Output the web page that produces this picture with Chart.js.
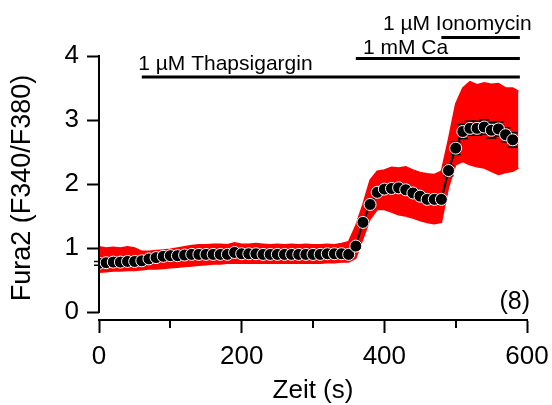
<!DOCTYPE html>
<html><head><meta charset="utf-8">
<script src="https://cdn.jsdelivr.net/npm/chart.js@4"></script>
<style>html,body{margin:0;padding:0;background:#fff}#wrap{width:552px;height:405px}</style>
</head><body><div id="wrap"><canvas id="c" width="552" height="405"></canvas></div>
<script>
// ---- data ----
const times = [0,10,20,30,40,50,60,70,80,90,100,110,120,130,140,150,160,170,180,190,200,210,220,230,240,250,260,270,280,290,300,310,320,330,340,350,360,370,380,390,400,410,420,430,440,450,460,470,480,490,500,510,520,530,540,550,560,570,580];
const meanRatio = [0.76,0.77,0.78,0.78,0.79,0.79,0.80,0.83,0.85,0.87,
  0.88,0.88,0.89,0.90,0.90,0.90,0.90,0.90,0.90,0.93,
  0.91,0.91,0.91,0.90,0.90,0.90,0.90,0.90,0.90,0.90,
  0.90,0.90,0.91,0.91,0.91,0.90,1.03,1.40,1.68,1.87,
  1.92,1.93,1.94,1.91,1.86,1.81,1.76,1.76,1.76,2.21,
  2.56,2.82,2.87,2.87,2.89,2.84,2.86,2.77,2.69];
const semRatio = [0.03,0.03,0.03,0.03,0.03,0.03,0.03,0.03,0.03,0.03,
  0.03,0.03,0.03,0.03,0.03,0.03,0.03,0.03,0.03,0.03,
  0.03,0.03,0.03,0.03,0.03,0.03,0.03,0.03,0.03,0.03,
  0.03,0.03,0.03,0.03,0.03,0.03,0.04,0.05,0.05,0.05,
  0.05,0.05,0.05,0.05,0.05,0.05,0.05,0.05,0.05,0.08,
  0.10,0.11,0.11,0.11,0.11,0.12,0.11,0.11,0.11];
const bandTimes = [0,10,20,30,40,50,60,70,80,90,100,110,120,130,140,150,160,170,180,190,200,210,220,230,240,250,260,270,280,290,300,310,320,330,340,350,360,370,380,390,400,410,420,430,440,450,460,470,480,490,500,510,520,530,540,550,560,570,580,588];
const bandUpper = [1.02,1.00,1.01,1.00,1.02,1.00,0.95,0.95,0.96,0.97,
  0.98,1.00,1.02,1.04,1.05,1.05,1.06,1.06,1.05,1.08,
  1.06,1.06,1.07,1.06,1.05,1.06,1.05,1.06,1.05,1.06,
  1.05,1.05,1.06,1.05,1.07,1.10,1.35,1.68,2.06,2.20,
  2.22,2.26,2.25,2.27,2.22,2.18,2.16,2.15,2.20,2.70,
  3.25,3.50,3.60,3.55,3.58,3.56,3.57,3.50,3.50,3.45];
const bandLower = [0.62,0.63,0.64,0.64,0.65,0.65,0.66,0.67,0.67,0.68,
  0.69,0.70,0.71,0.72,0.73,0.74,0.75,0.75,0.76,0.76,
  0.76,0.76,0.76,0.76,0.76,0.76,0.76,0.76,0.76,0.76,
  0.76,0.76,0.77,0.77,0.78,0.78,0.84,1.15,1.45,1.60,
  1.60,1.56,1.52,1.50,1.47,1.43,1.40,1.38,1.40,1.95,
  2.30,2.35,2.30,2.27,2.25,2.20,2.15,2.18,2.20,2.25];
const xTicks = [0,100,200,300,400,500,600];
const xTickLabels = ['0','','200','','400','','600'];
const yTicks = [0,1,2,3,4];
const yTickLabels = ['0','1','2','3','4'];
const treatLabels = ['1 µM Thapsigargin','1 mM Ca','1 µM Ionomycin'];
const treatStart = [60,360,480];
const treatEnd = [590,590,590];
const treatLevel = [3.67,3.96,4.29];
const treatTextTime = [55,370,398];
const treatTextLevel = [3.78,4.03,4.41];
const nLabel = '(8)';

const FONT = "'Liberation Sans', Arial, sans-serif";

const decor = {
  id: 'decor',
  beforeDatasetDraw(chart, args) {
    if (args.index !== 0) return;
    const {ctx, scales:{x, y}} = chart;
    ctx.save();
    ctx.strokeStyle = '#000'; ctx.lineWidth = 1.5;
    times.forEach((t, i) => {
      const px = x.getPixelForValue(t);
      const y1 = y.getPixelForValue(meanRatio[i] + semRatio[i]);
      const y2 = y.getPixelForValue(meanRatio[i] - semRatio[i]);
      ctx.beginPath();
      ctx.moveTo(px, y1); ctx.lineTo(px, y2);
      ctx.moveTo(px - 5, y1); ctx.lineTo(px + 5, y1);
      ctx.moveTo(px - 5, y2); ctx.lineTo(px + 5, y2);
      ctx.stroke();
    });
    ctx.restore();
  },
  afterDraw(chart) {
    const {ctx, chartArea, scales:{x, y}} = chart;
    ctx.save();
    ctx.strokeStyle = '#000'; ctx.fillStyle = '#000';
    ctx.lineWidth = 2;
    ctx.beginPath();
    ctx.moveTo(chartArea.left, y.getPixelForValue(0) + 1);
    ctx.lineTo(chartArea.left, y.getPixelForValue(4) - 1);
    ctx.stroke();
    xTicks.forEach((t, i) => {
      if (xTickLabels[i] !== '') return;
      const px = Math.round(x.getPixelForValue(t));
      ctx.beginPath();
      ctx.moveTo(px, chartArea.bottom);
      ctx.lineTo(px, chartArea.bottom + 8);
      ctx.stroke();
    });
    ctx.font = '21px ' + FONT;
    ctx.textAlign = 'left'; ctx.textBaseline = 'alphabetic';
    treatLabels.forEach((lab, i) => {
      const py = y.getPixelForValue(treatLevel[i]);
      ctx.lineWidth = 3;
      ctx.beginPath();
      ctx.moveTo(x.getPixelForValue(treatStart[i]), py);
      ctx.lineTo(x.getPixelForValue(treatEnd[i]), py);
      ctx.stroke();
      ctx.fillText(lab, x.getPixelForValue(treatTextTime[i]), y.getPixelForValue(treatTextLevel[i]));
    });
    ctx.font = '25px ' + FONT;
    ctx.textAlign = 'right';
    ctx.fillText(nLabel, x.getPixelForValue(600) + 3, y.getPixelForValue(0.04));
    ctx.restore();
  }
};

new Chart(document.getElementById('c'), {
  type: 'line',
  data: {
    datasets: [
      {
        label: 'Mittelwert',
        data: times.map((t, i) => ({x: t, y: meanRatio[i]})),
        borderColor: '#000', borderWidth: 2,
        pointRadius: 6, pointBackgroundColor: '#000',
        pointBorderColor: '#fff', pointBorderWidth: 1,
        fill: false, tension: 0
      },
      {
        label: 'upper',
        data: bandTimes.map((t, i) => ({x: t, y: bandUpper[i]})),
        borderColor: '#ff0000', borderWidth: 1.5, pointRadius: 0,
        backgroundColor: '#ff0000', fill: '+1', tension: 0
      },
      {
        label: 'lower',
        data: bandTimes.map((t, i) => ({x: t, y: bandLower[i]})),
        borderColor: '#ff0000', borderWidth: 1.5, pointRadius: 0,
        backgroundColor: '#ff0000', fill: false, tension: 0
      }
    ]
  },
  options: {
    responsive: false, animation: false, devicePixelRatio: 1,
    layout: {padding: {left: 0, right: 25, top: 56, bottom: 0}},
    plugins: {legend: {display: false}, tooltip: {enabled: false}},
    scales: {
      x: {
        type: 'linear', min: 0, max: 600,
        afterBuildTicks: s => { s.ticks = xTicks.map(v => ({value: v})); },
        afterFit: s => { s.height = 85; s.paddingLeft = 0; s.paddingRight = 0; },
        ticks: {
          autoSkip: false, maxRotation: 0, padding: 8,
          color: '#000', font: {family: FONT, size: 26},
          callback: (v, i) => xTickLabels[i]
        },
        grid: {
          drawOnChartArea: false, drawTicks: true, tickLength: 13, tickWidth: 2,
          tickColor: ctx => (xTickLabels[ctx.index] === '' ? 'rgba(0,0,0,0)' : '#000')
        },
        border: {display: true, color: '#000', width: 2},
        title: {display: true, text: 'Zeit (s)', color: '#000',
          font: {family: FONT, size: 26, lineHeight: 1.0}, padding: {top: 0, bottom: 1}}
      },
      y: {
        type: 'linear', min: -0.125, max: 4,
        afterBuildTicks: s => { s.ticks = yTicks.map(v => ({value: v})); },
        afterFit: s => { s.width = 99; s.paddingTop = 0; s.paddingBottom = 0; },
        ticks: {
          padding: 8, color: '#000', font: {family: FONT, size: 26},
          callback: (v, i) => yTickLabels[i]
        },
        grid: {drawOnChartArea: false, drawTicks: true, tickLength: 12, tickWidth: 2, tickColor: '#000'},
        border: {display: false},
        title: {display: true, text: 'Fura2 (F340/F380)', color: '#000',
          font: {family: FONT, size: 27}, padding: {top: 6, bottom: 0}}
      }
    }
  },
  plugins: [decor]
});
</script>
</body></html>
